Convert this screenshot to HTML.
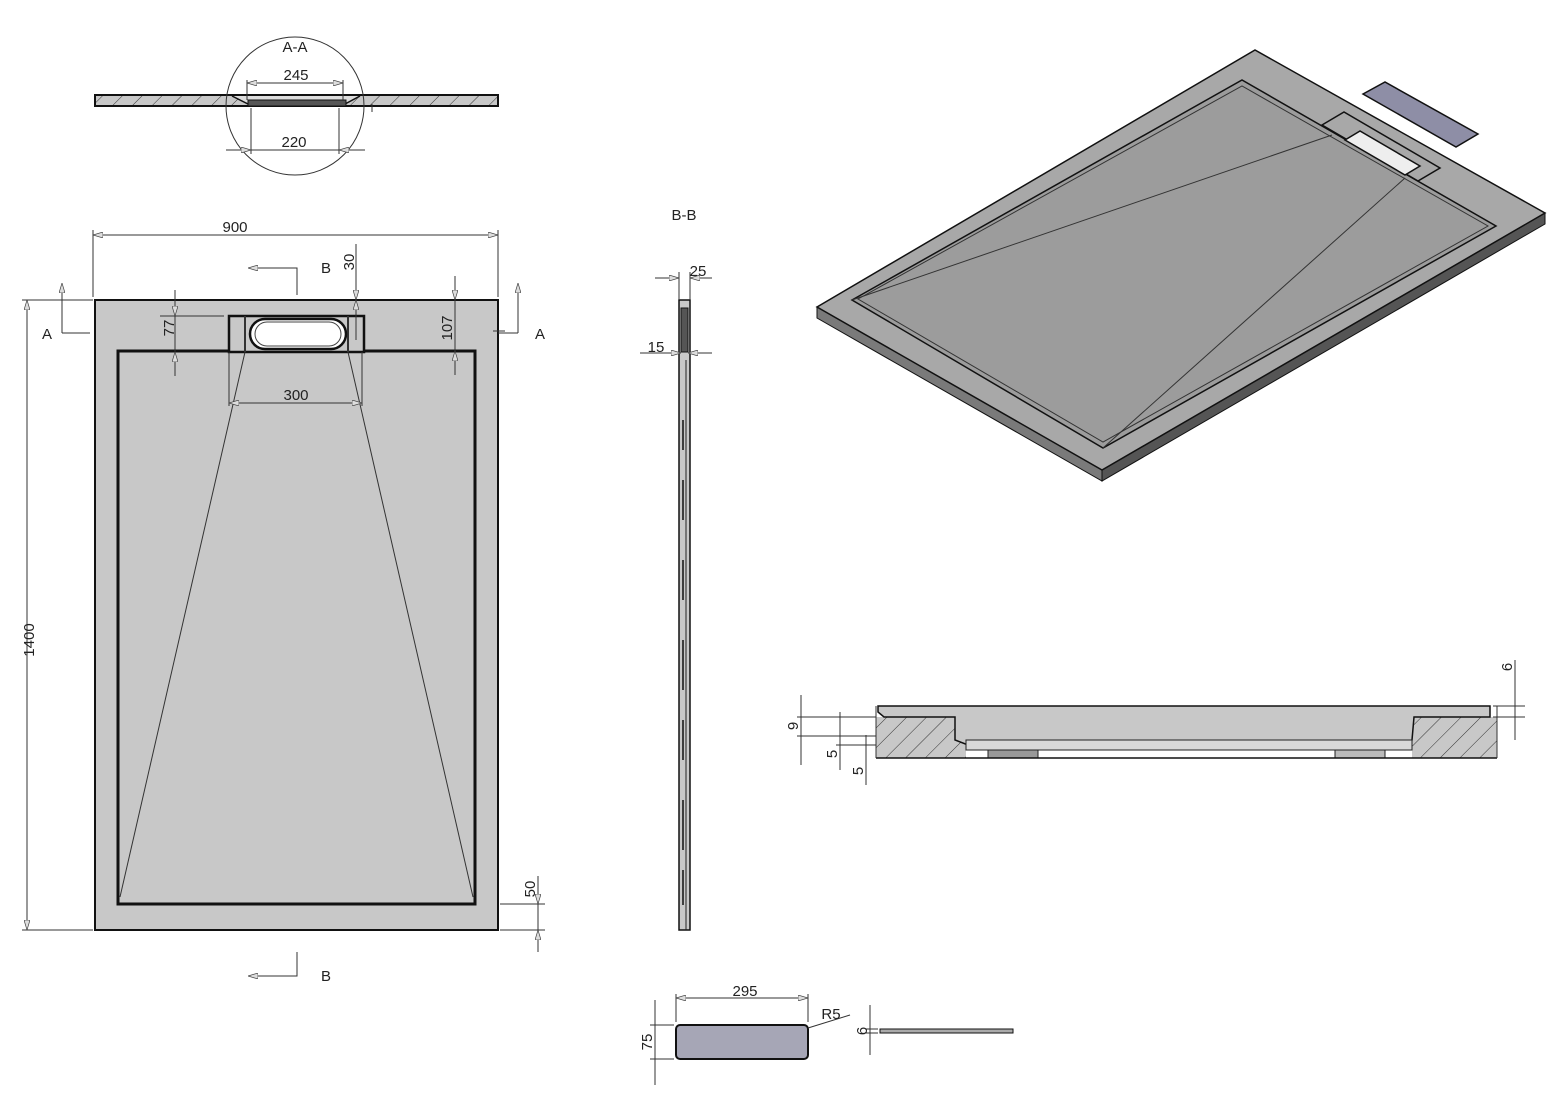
<!DOCTYPE html>
<html><head><meta charset="utf-8"><style>
html,body{margin:0;padding:0;background:#fff}
svg{display:block}
text{font-family:"Liberation Sans",sans-serif;font-size:15px;fill:#222}
</style></head><body>
<svg width="1561" height="1099" viewBox="0 0 1561 1099" xmlns="http://www.w3.org/2000/svg">
<defs>
<pattern id="h" width="14" height="14" patternUnits="userSpaceOnUse" patternTransform="rotate(45)">
<rect width="14" height="14" fill="#c8c8c8"/><line x1="0" y1="0" x2="0" y2="14" stroke="#333" stroke-width="1"/>
</pattern>
<marker id="a" markerWidth="10" markerHeight="6" refX="10" refY="3" orient="auto-start-reverse"><path d="M0,0 L10,3 L0,6 z" fill="#ddd" stroke="#444" stroke-width="0.7"/></marker>
</defs>
<g stroke="#333" stroke-width="1" fill="none">
<!-- A-A section -->
<rect x="95" y="95" width="403" height="11" fill="url(#h)" stroke="#111" stroke-width="2"/>
<path d="M232,96 L248,104 L345,104 L360,96" fill="#ddd" stroke="#111" stroke-width="1.5"/>
<rect x="248" y="100" width="98" height="6" fill="#555" stroke="#111"/>
<circle cx="295" cy="106" r="69"/>
<line x1="247" y1="83" x2="343" y2="83" marker-start="url(#a)" marker-end="url(#a)"/>
<line x1="247" y1="80" x2="247" y2="100"/><line x1="343" y1="80" x2="343" y2="100"/>
<line x1="251" y1="108" x2="251" y2="154"/><line x1="339" y1="108" x2="339" y2="154"/>
<line x1="226" y1="150" x2="251" y2="150" marker-end="url(#a)"/><line x1="251" y1="150" x2="339" y2="150"/><line x1="365" y1="150" x2="339" y2="150" marker-end="url(#a)"/>
<line x1="372" y1="104" x2="372" y2="112"/>
<!-- plan -->
<rect x="95" y="300" width="403" height="630" fill="#c8c8c8" stroke="#111" stroke-width="2"/>
<rect x="118" y="351" width="357" height="553" fill="#c8c8c8" stroke="#111" stroke-width="3"/>
<rect x="229" y="316" width="135" height="36" fill="#c8c8c8" stroke="#111" stroke-width="2.5"/>
<line x1="245" y1="316" x2="245" y2="352" stroke-width="2"/><line x1="348" y1="316" x2="348" y2="352" stroke-width="2"/>
<rect x="250" y="319" width="96" height="30" rx="15" fill="#fff" stroke="#111" stroke-width="2.5"/>
<rect x="255" y="322" width="86" height="24" rx="12" fill="none" stroke="#444"/>
<line x1="245" y1="352" x2="120" y2="897"/><line x1="348" y1="352" x2="473" y2="897"/>
<line x1="229" y1="352" x2="229" y2="406"/><line x1="362" y1="352" x2="362" y2="406"/>
<line x1="229" y1="403" x2="362" y2="403" marker-start="url(#a)" marker-end="url(#a)"/>
<!-- 900 -->
<line x1="93" y1="235" x2="498" y2="235" marker-start="url(#a)" marker-end="url(#a)"/>
<line x1="93" y1="230" x2="93" y2="297"/><line x1="498" y1="230" x2="498" y2="297"/>
<!-- 1400 -->
<line x1="27" y1="300" x2="27" y2="930" marker-start="url(#a)" marker-end="url(#a)"/>
<line x1="22" y1="300" x2="93" y2="300"/><line x1="22" y1="930" x2="93" y2="930"/>
<!-- 77 -->
<line x1="175" y1="290" x2="175" y2="316" marker-end="url(#a)"/><line x1="175" y1="316" x2="175" y2="352"/><line x1="175" y1="376" x2="175" y2="352" marker-end="url(#a)"/>
<line x1="160" y1="316" x2="224" y2="316"/>
<!-- 30 -->
<line x1="356" y1="244" x2="356" y2="300" marker-end="url(#a)"/><line x1="356" y1="300" x2="356" y2="340" marker-start="url(#a)"/>
<!-- 107 -->
<line x1="455" y1="276" x2="455" y2="300" marker-end="url(#a)"/><line x1="455" y1="300" x2="455" y2="351"/><line x1="455" y1="375" x2="455" y2="351" marker-end="url(#a)"/>
<line x1="493" y1="331" x2="505" y2="331"/>
<!-- section arrows -->
<path d="M62,333 L62,283" marker-end="url(#a)"/><path d="M62,333 L90,333"/>
<path d="M518,333 L518,283" marker-end="url(#a)"/><path d="M518,333 L498,333"/>
<path d="M297,295 L297,268 L248,268" marker-end="url(#a)"/>
<path d="M297,952 L297,976 L248,976" marker-end="url(#a)"/>
<!-- 50 -->
<line x1="538" y1="876" x2="538" y2="904" marker-end="url(#a)"/><line x1="538" y1="904" x2="538" y2="930"/><line x1="538" y1="952" x2="538" y2="930" marker-end="url(#a)"/>
<line x1="500" y1="904" x2="545" y2="904"/><line x1="500" y1="930" x2="545" y2="930"/>
<!-- B-B -->
<rect x="679" y="300" width="11" height="630" fill="#c8c8c8" stroke="#111" stroke-width="1.5"/>
<rect x="681" y="308" width="7" height="44" fill="#555" stroke="#111"/>
<path d="M686,360 L686,930" stroke="#222"/>
<g stroke="#111" stroke-width="1.5">
<line x1="683" y1="420" x2="683" y2="450"/><line x1="683" y1="480" x2="683" y2="520"/><line x1="683" y1="560" x2="683" y2="600"/><line x1="683" y1="640" x2="683" y2="690"/><line x1="683" y1="720" x2="683" y2="760"/><line x1="683" y1="800" x2="683" y2="850"/><line x1="683" y1="870" x2="683" y2="905"/>
</g>
<line x1="655" y1="278" x2="679" y2="278" marker-end="url(#a)"/><line x1="712" y1="278" x2="690" y2="278" marker-end="url(#a)"/>
<line x1="679" y1="272" x2="679" y2="300"/><line x1="690" y1="272" x2="690" y2="300"/>
<line x1="640" y1="353" x2="681" y2="353" marker-end="url(#a)"/><line x1="712" y1="353" x2="688" y2="353" marker-end="url(#a)"/>
<!-- bottom cover -->
<rect x="676" y="1025" width="132" height="34" rx="4" fill="#a6a6b6" stroke="#111" stroke-width="2"/>
<line x1="676" y1="998" x2="808" y2="998" marker-start="url(#a)" marker-end="url(#a)"/>
<line x1="676" y1="994" x2="676" y2="1022"/><line x1="808" y1="994" x2="808" y2="1022"/>
<line x1="655" y1="1000" x2="655" y2="1085"/>
<line x1="650" y1="1025" x2="674" y2="1025"/><line x1="650" y1="1059" x2="674" y2="1059"/>
<line x1="808" y1="1028" x2="850" y2="1015"/>
<rect x="880" y="1029" width="133" height="4" fill="#aaa" stroke="#111"/>
<line x1="870" y1="1005" x2="870" y2="1055"/><line x1="866" y1="1029" x2="878" y2="1029"/><line x1="866" y1="1033" x2="878" y2="1033"/>
<!-- isometric -->
<polygon points="817,307 1102,470 1102,481 817,318" fill="#7a7a7a" stroke="#111"/>
<polygon points="1102,470 1545,213 1545,224 1102,481" fill="#555" stroke="#111"/>
<polygon points="817,307 1255,50 1545,213 1102,470" fill="#a8a8a8" stroke="#111" stroke-width="1.5"/>
<polygon points="852,300 1242,80 1496,226 1103,448" fill="#9c9c9c" stroke="#111" stroke-width="1.5"/>
<polygon points="858,299 1242,86 1488,226 1103,442" fill="none" stroke="#333"/>
<polygon points="1322,125 1344,112 1440,168 1418,181" fill="#a8a8a8" stroke="#111" stroke-width="1.5"/>
<polygon points="1345,140 1360,131 1420,166 1405,175" fill="#eee" stroke="#111" stroke-width="1.5"/>
<line x1="852" y1="300" x2="1332" y2="135"/><line x1="1103" y1="448" x2="1405" y2="178"/>
<polygon points="1363,94 1385,82 1478,134 1456,147" fill="#8e8ea6" stroke="#111" stroke-width="1.5"/>
<!-- section view -->
<rect x="876" y="717" width="90" height="41" fill="url(#h)" stroke="none"/>
<rect x="1412" y="717" width="85" height="41" fill="url(#h)" stroke="none"/>
<path d="M878,706 L1490,706 L1490,717 L1478,717 L1414,717 L1412,740 L1395,745 L968,745 L955,740 L955,717 L884,717 L878,712 Z" fill="#c8c8c8" stroke="#111" stroke-width="1.5"/>
<rect x="966" y="740" width="446" height="10" fill="#d8d8d8" stroke="#222"/>
<rect x="988" y="750" width="50" height="8" fill="#999" stroke="#222"/>
<rect x="1335" y="750" width="50" height="8" fill="#bbb" stroke="#222"/>
<line x1="876" y1="758" x2="1497" y2="758" stroke="#111" stroke-width="1.5"/>
<line x1="876" y1="706" x2="876" y2="758"/><line x1="1497" y1="706" x2="1497" y2="758"/>
<line x1="801" y1="695" x2="801" y2="765"/><line x1="797" y1="717" x2="876" y2="717"/><line x1="797" y1="736" x2="876" y2="736"/>
<line x1="840" y1="712" x2="840" y2="770"/><line x1="836" y1="745" x2="876" y2="745"/>
<line x1="866" y1="735" x2="866" y2="785"/>
<line x1="1515" y1="660" x2="1515" y2="740"/><line x1="1493" y1="706" x2="1525" y2="706"/><line x1="1493" y1="717" x2="1525" y2="717"/>
</g>
<text x="295" y="52" text-anchor="middle">A-A</text>
<text x="296" y="80" text-anchor="middle">245</text>
<text x="294" y="147" text-anchor="middle">220</text>
<text x="235" y="232" text-anchor="middle">900</text>
<text x="326" y="273" text-anchor="middle">B</text>
<text x="326" y="981" text-anchor="middle">B</text>
<text x="47" y="339" text-anchor="middle">A</text>
<text x="540" y="339" text-anchor="middle">A</text>
<text x="296" y="400" text-anchor="middle">300</text>
<text transform="translate(34,640) rotate(-90)" text-anchor="middle">1400</text>
<text transform="translate(174,328) rotate(-90)" text-anchor="middle">77</text>
<text transform="translate(354,262) rotate(-90)" text-anchor="middle">30</text>
<text transform="translate(452,328) rotate(-90)" text-anchor="middle">107</text>
<text transform="translate(535,889) rotate(-90)" text-anchor="middle">50</text>
<text x="684" y="220" text-anchor="middle">B-B</text>
<text x="698" y="276" text-anchor="middle">25</text>
<text x="656" y="352" text-anchor="middle">15</text>
<text x="745" y="996" text-anchor="middle">295</text>
<text transform="translate(652,1042) rotate(-90)" text-anchor="middle">75</text>
<text x="831" y="1019" text-anchor="middle">R5</text>
<text transform="translate(867,1031) rotate(-90)" text-anchor="middle">6</text>
<text transform="translate(798,726) rotate(-90)" text-anchor="middle">9</text>
<text transform="translate(837,754) rotate(-90)" text-anchor="middle">5</text>
<text transform="translate(863,771) rotate(-90)" text-anchor="middle">5</text>
<text transform="translate(1512,667) rotate(-90)" text-anchor="middle">6</text>
</svg>
</body></html>
